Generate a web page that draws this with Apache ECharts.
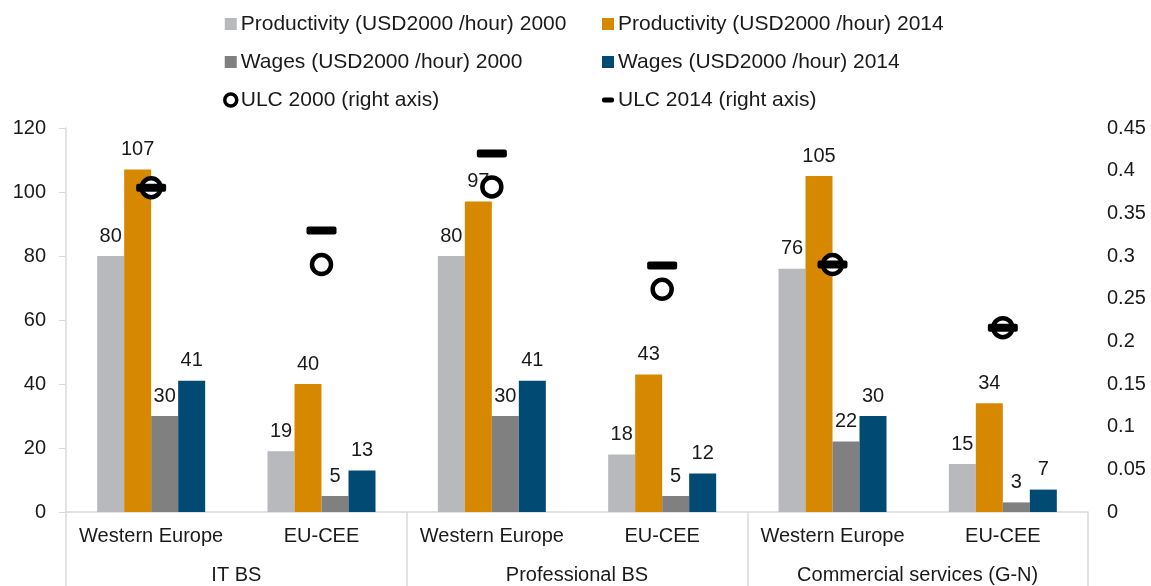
<!doctype html>
<html>
<head>
<meta charset="utf-8">
<title>Productivity, wages and ULC</title>
<script src="https://cdn.jsdelivr.net/npm/echarts@6/dist/echarts.min.js"></script>
<style>
  html, body { margin: 0; padding: 0; background: #fff; }
  #main { width: 1151px; height: 586px; }
</style>
</head>
<body>
<div id="main"></div>
<script>
// categories
var regions = ['Western Europe', 'EU-CEE', 'Western Europe', 'EU-CEE', 'Western Europe', 'EU-CEE'];
var sectors = ['IT BS', 'Professional BS', 'Commercial services (G-N)'];

// bar values (left axis)
var prod2000 = [80, 19, 80, 18, 76, 15];
var prod2014 = [107, 40, 97, 43, 105, 34];
var wages2000 = [30, 5, 30, 5, 22, 3];
var wages2014 = [41, 13, 41, 12, 30, 7];

// unit labour cost (right axis)
var ulc2000 = [0.38, 0.29, 0.381, 0.261, 0.29, 0.216];
var ulc2014 = [0.38, 0.33, 0.42, 0.289, 0.29, 0.216];

var font = 'Liberation Sans, Arial, sans-serif';
var txt = '#1a1a1a';
var grey = '#d9d9d9';

function barSeries(name, data, color) {
  return {
    name: name,
    type: 'bar',
    data: data,
    barWidth: 27,
    barGap: '0%',
    itemStyle: { color: color },
    label: {
      show: true,
      position: 'top',
      distance: 10,
      fontSize: 20,
      fontFamily: font,
      color: txt
    }
  };
}

var legendText = { fontSize: 21, color: txt, padding: [0, 0, 0, -1], lineHeight: 22 };

var option = {
  animation: false,
  textStyle: { fontFamily: font },
  grid: { left: 66, right: 63, top: 128, bottom: 74 },
  legend: [{
    orient: 'vertical',
    left: 218,
    top: 8,
    itemGap: 16,
    itemWidth: 12,
    itemHeight: 12,
    textStyle: legendText,
    data: [
      { name: 'Productivity (USD2000 /hour) 2000', icon: 'rect' },
      { name: 'Wages (USD2000 /hour) 2000', icon: 'rect' },
      { name: 'ULC 2000 (right axis)', icon: 'circle', itemStyle: { color: '#fff', borderColor: '#000', borderWidth: 3.5 } }
    ]
  }, {
    orient: 'vertical',
    left: 597,
    top: 8,
    itemGap: 16,
    itemWidth: 12,
    itemHeight: 12,
    textStyle: legendText,
    data: [
      { name: 'Productivity (USD2000 /hour) 2014', icon: 'rect' },
      { name: 'Wages (USD2000 /hour) 2014', icon: 'rect' },
      { name: 'ULC 2014 (right axis)', icon: 'path://M2,0 L10,0 Q12,0 12,2 L12,3 Q12,5 10,5 L2,5 Q0,5 0,3 L0,2 Q0,0 2,0 Z', itemStyle: { color: '#000' } }
    ]
  }],
  xAxis: [{
    type: 'category',
    data: regions,
    axisLine: { lineStyle: { color: grey, width: 1.5 } },
    axisTick: { show: false },
    axisLabel: { fontSize: 20, color: txt, margin: 14, interval: 0 }
  }, {
    type: 'category',
    data: sectors,
    position: 'bottom',
    axisLine: { show: false },
    axisTick: { show: true, length: 74, lineStyle: { color: grey, width: 1.5 } },
    axisLabel: { fontSize: 20, color: txt, margin: 53, interval: 0 }
  }],
  yAxis: [{
    type: 'value',
    min: 0,
    max: 120,
    interval: 20,
    axisLine: { show: true, lineStyle: { color: grey, width: 1.5 } },
    axisTick: { show: true, length: 7, lineStyle: { color: grey } },
    splitLine: { show: false },
    axisLabel: { fontSize: 20, color: txt, margin: 20 }
  }, {
    type: 'value',
    min: 0,
    max: 0.45,
    interval: 0.05,
    axisLine: { show: false },
    axisTick: { show: false },
    splitLine: { show: false },
    axisLabel: {
      fontSize: 20, color: txt, margin: 19,
      formatter: function (v) { return String(Math.round(v * 100) / 100); }
    }
  }],
  series: [
    barSeries('Productivity (USD2000 /hour) 2000', prod2000, '#b8b9bc'),
    barSeries('Productivity (USD2000 /hour) 2014', prod2014, '#d68800'),
    barSeries('Wages (USD2000 /hour) 2000', wages2000, '#808080'),
    barSeries('Wages (USD2000 /hour) 2014', wages2014, '#004a73'),
    {
      name: 'ULC 2000 (right axis)',
      type: 'scatter',
      yAxisIndex: 1,
      data: ulc2000,
      symbol: 'circle',
      symbolSize: 19,
      itemStyle: { color: '#fff', borderColor: '#000', borderWidth: 4.5, opacity: 1 },
      z: 3
    },
    {
      name: 'ULC 2014 (right axis)',
      type: 'scatter',
      yAxisIndex: 1,
      data: ulc2014,
      symbol: 'path://M2,0 L28,0 Q30,0 30,2 L30,6 Q30,8 28,8 L2,8 Q0,8 0,6 L0,2 Q0,0 2,0 Z',
      symbolSize: [30, 8],
      itemStyle: { color: '#000', opacity: 1 },
      z: 4
    }
  ]
};

var myChart = echarts.init(document.getElementById('main'));
myChart.setOption(option);
</script>
</body>
</html>
